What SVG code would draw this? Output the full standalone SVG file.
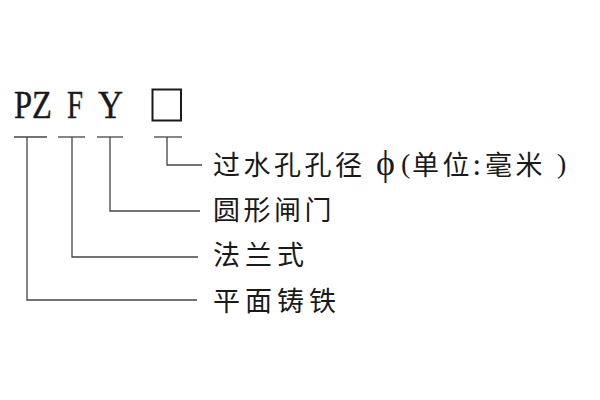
<svg xmlns="http://www.w3.org/2000/svg" width="600" height="400" viewBox="0 0 600 400">
<style>
.code{font-family:"Liberation Serif","DejaVu Serif",serif;font-size:39px;fill:#1a1a1a;stroke:#1a1a1a;stroke-width:0.4}
.lbl{font-family:"Noto Sans CJK SC","Noto Sans",sans-serif;font-size:27px;fill:#1a1a1a;letter-spacing:3.5px}
.sym{font-family:"Liberation Serif",serif;font-size:28px;fill:#1a1a1a}
.ln{stroke:#444;stroke-width:1.3;fill:none}
</style>
<rect width="600" height="400" fill="#fff"/>
<g id="code">
<text class="code" x="14" y="118" textLength="38" lengthAdjust="spacingAndGlyphs">PZ</text>
<text class="code" x="67" y="118" textLength="16" lengthAdjust="spacingAndGlyphs">F</text>
<text class="code" x="98" y="118" textLength="25" lengthAdjust="spacingAndGlyphs">Y</text>
<rect x="152.5" y="89.5" width="28.5" height="31" fill="none" stroke="#1a1a1a" stroke-width="2"/>
</g>
<g id="connectors">
<line class="ln" x1="14" y1="137" x2="47" y2="137"/>
<line class="ln" x1="58" y1="137" x2="85" y2="137"/>
<line class="ln" x1="97" y1="137" x2="123" y2="137"/>
<line class="ln" x1="154" y1="137" x2="182" y2="137"/>
<polyline class="ln" points="167,137 167,165 202,165"/>
<polyline class="ln" points="110,137 110,211 200,211"/>
<polyline class="ln" points="72,137 72,257 198,257"/>
<polyline class="ln" points="27,137 27,300 197,300"/>
</g>
<g id="label-diameter">
<text class="lbl" x="213" y="175">过水孔孔径</text>
<text class="sym" x="376" y="175" style="font-size:36px">ϕ</text>
<text class="sym" x="401" y="173">(</text>
<text class="lbl" x="412" y="175">单位</text>
<text class="lbl" x="473" y="175">:</text>
<text class="lbl" x="485" y="175">毫米</text>
<text class="sym" x="557" y="173">)</text>
</g>
<g id="label-round">
<text class="lbl" x="213" y="220">圆形闸门</text>
</g>
<g id="label-flange">
<text class="lbl" x="213" y="265" style="letter-spacing:5px">法兰式</text>
</g>
<g id="label-iron">
<text class="lbl" x="213" y="311" style="letter-spacing:5px">平面铸铁</text>
</g>
</svg>
